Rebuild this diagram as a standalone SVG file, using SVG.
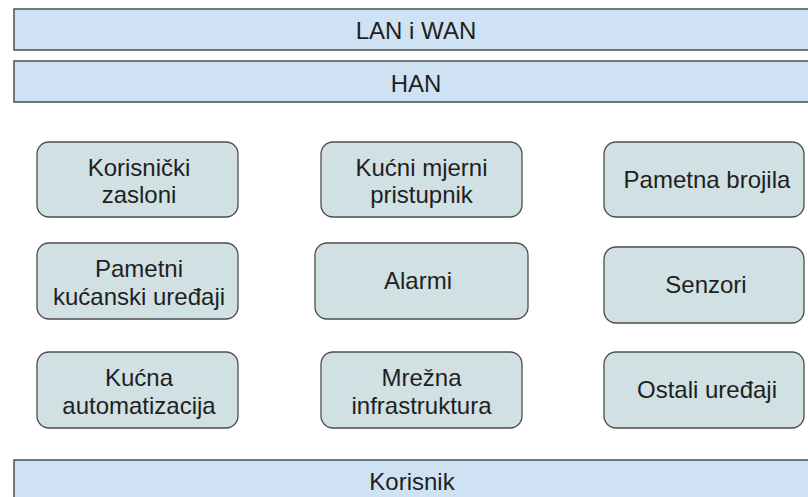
<svg xmlns="http://www.w3.org/2000/svg" width="808" height="497" viewBox="0 0 808 497">
<style>
.bar{fill:#cfe2f3;stroke:#4d4d4d;stroke-width:1.5}
.box{fill:#d0e0e3;stroke:#4d4d4d;stroke-width:1.3}
text{font-family:"Liberation Sans",Arial,sans-serif;font-size:24px;fill:#1f1f1f;text-anchor:middle}
</style>
<rect width="808" height="497" fill="#ffffff"/>
<g id="lan-wan"><rect class="bar" x="14" y="9" width="806" height="41"/><text x="416" y="39">LAN i WAN</text></g>
<g id="han"><rect class="bar" x="14" y="61" width="806" height="41"/><text x="416" y="92">HAN</text></g>
<g id="korisnicki-zasloni"><rect class="box" x="37" y="142" width="201" height="75" rx="12"/><text x="139" y="176">Korisnički</text><text x="139" y="203">zasloni</text></g>
<g id="kucni-mjerni"><rect class="box" x="321" y="142" width="201" height="75" rx="12"/><text x="421.5" y="176">Kućni mjerni</text><text x="421.5" y="203">pristupnik</text></g>
<g id="pametna-brojila"><rect class="box" x="604" y="142" width="200" height="75" rx="12"/><text x="707" y="188">Pametna brojila</text></g>
<g id="pametni-kucanski"><rect class="box" x="37" y="243" width="201" height="76" rx="12"/><text x="139" y="277">Pametni</text><text x="139" y="305">kućanski uređaji</text></g>
<g id="alarmi"><rect class="box" x="315" y="243" width="213" height="76" rx="12"/><text x="418" y="289">Alarmi</text></g>
<g id="senzori"><rect class="box" x="604" y="247" width="200" height="76" rx="12"/><text x="706" y="293">Senzori</text></g>
<g id="kucna-automatizacija"><rect class="box" x="37" y="352" width="201" height="76" rx="12"/><text x="139" y="386">Kućna</text><text x="139" y="414">automatizacija</text></g>
<g id="mrezna-infrastruktura"><rect class="box" x="321" y="352" width="201" height="76" rx="12"/><text x="421.5" y="386">Mrežna</text><text x="421.5" y="414">infrastruktura</text></g>
<g id="ostali-uredaji"><rect class="box" x="604" y="352" width="200" height="76" rx="12"/><text x="707" y="398">Ostali uređaji</text></g>
<g id="korisnik"><rect class="bar" x="14" y="460" width="806" height="45"/><text x="412" y="490">Korisnik</text></g>
<g id="connectors"/>
</svg>
